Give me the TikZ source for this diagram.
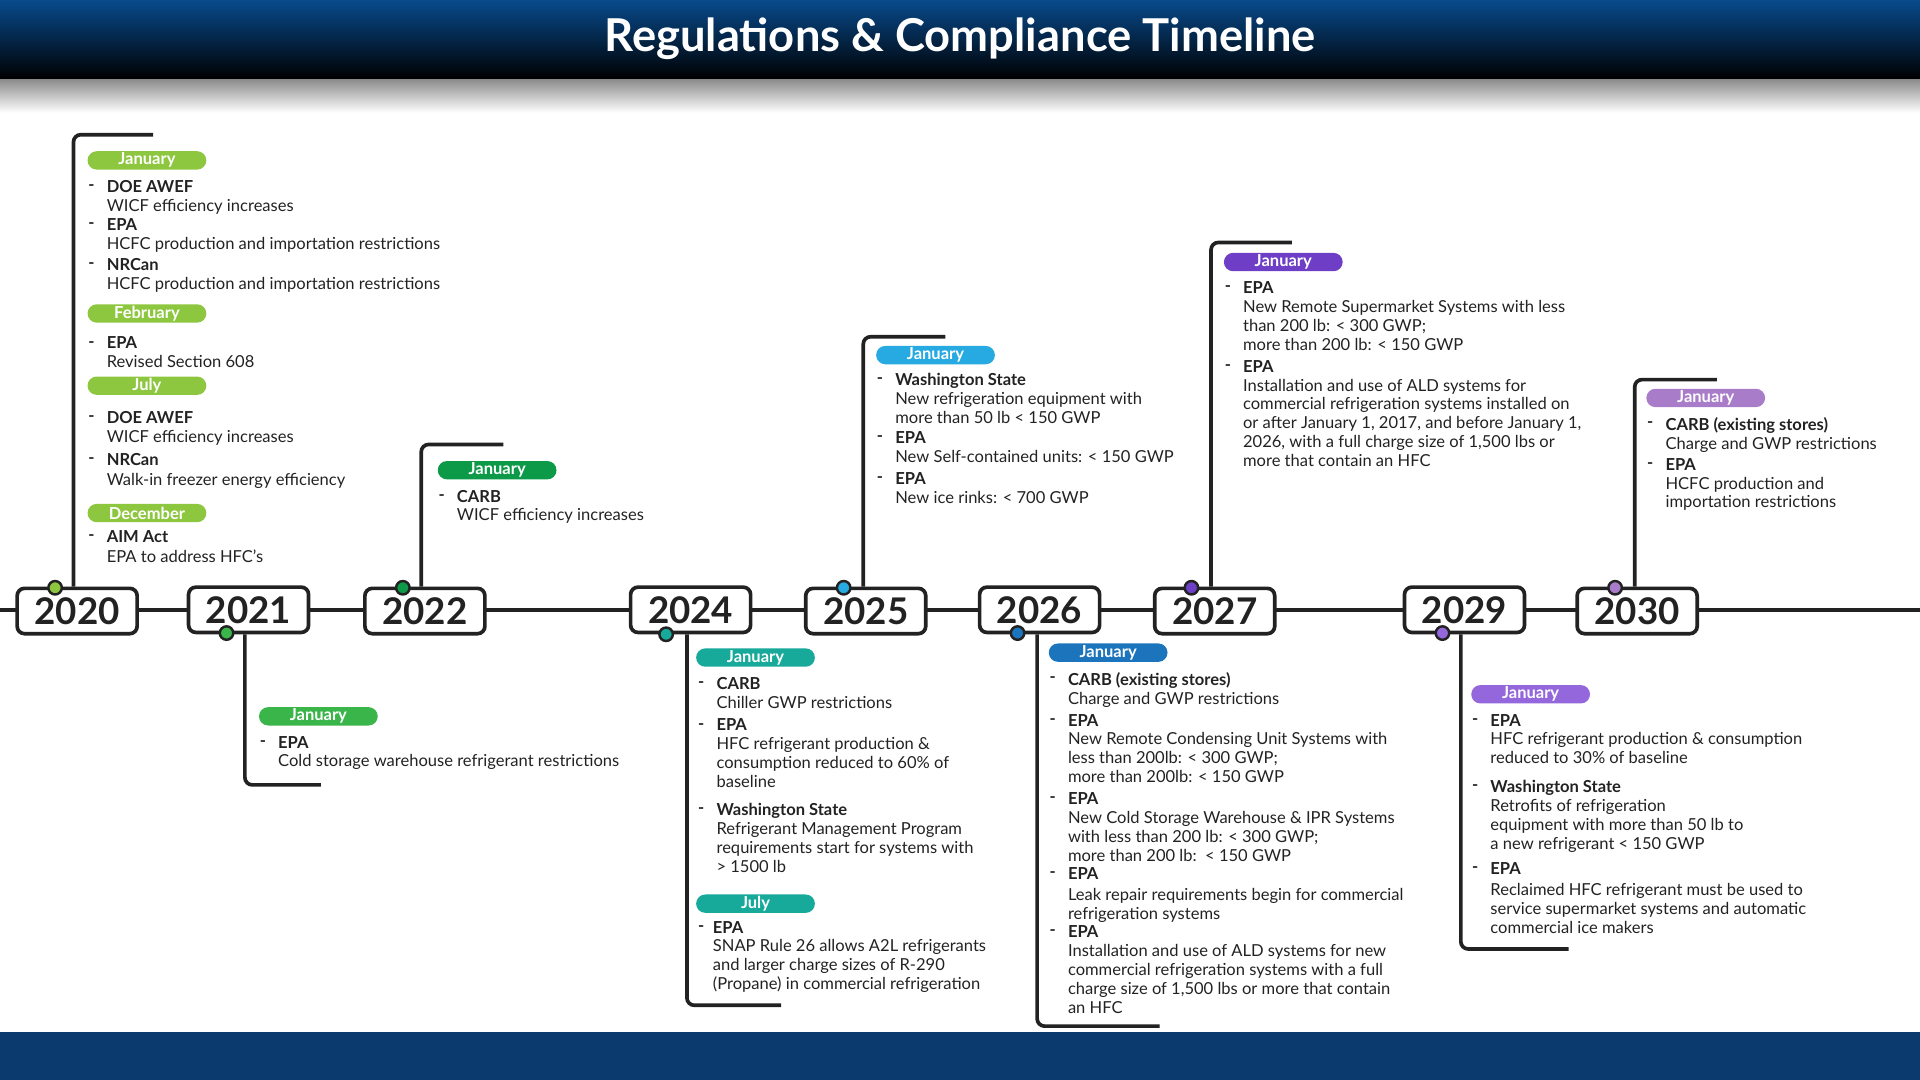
\documentclass[tikz,border=0pt]{standalone}
\usepackage{fontspec}
\setmainfont{Lato}
\usetikzlibrary{calc}

\definecolor{hdrblue}{RGB}{8,74,140}
\definecolor{footblue}{RGB}{10,58,110}
\definecolor{c20}{HTML}{8DC63F}
\definecolor{c21}{HTML}{3AB54A}
\definecolor{c22}{HTML}{0C9A48}
\definecolor{c24}{HTML}{17A999}
\definecolor{c25}{HTML}{27AAE1}
\definecolor{c26}{HTML}{1C75BC}
\definecolor{c27}{HTML}{6E3FC6}
\definecolor{c29}{HTML}{9468DC}
\definecolor{c30}{HTML}{A97CC9}
\definecolor{txt}{HTML}{222222}

\newcommand{\bodyfont}{\fontsize{13.5}{15.4}\selectfont}

\tikzset{
  yearbox/.style={draw=txt, line width=3pt, rounded corners=6pt, fill=white,
    minimum width=98pt, minimum height=37pt, inner sep=0pt,
    font=\fontsize{30}{30}\selectfont\bfseries, text=txt},
  yeardot/.style={circle, draw=txt, line width=2pt, fill=#1, minimum size=11pt, inner sep=0pt},
  bracket/.style={draw=txt, line width=3pt, rounded corners=6pt},
  month/.style={fill=#1, rounded corners=7.5pt, minimum width=97pt, minimum height=15pt,
    inner sep=0pt, text=white, font=\fontsize{13.5}{14}\selectfont\bfseries},
  item/.style={anchor=north west, inner sep=0pt, align=left, font=\bodyfont, text=txt},
  bullet/.style={anchor=west, inner sep=0pt, font=\bodyfont\bfseries, text=txt}
}

\begin{document}
\begin{tikzpicture}[x=1pt, y=-1pt]
\useasboundingbox (0,0) rectangle (1568,882);

% header and footer
\shade[top color=hdrblue, bottom color=black] (0,0) rectangle (1568,65);
\shade[top color=black!45, bottom color=white] (0,65) rectangle (1568,92);
\node[text=white, font=\fontsize{37}{37}\selectfont\bfseries] (title) at (784,32) {Regulations \& Compliance Timeline};
\fill[footblue] (0,843) rectangle (1568,882);

% time axis
\coordinate (ax0) at (0,498);
\coordinate (ax1) at (1568,498);
\draw[draw=txt, line width=3pt] (ax0) -- (ax1);

% year boxes
\node[yearbox] (y20) at (63,499) {2020};
\node[yearbox] (y21) at (203,498) {2021};
\node[yearbox] (y22) at (347,499) {2022};
\node[yearbox] (y24) at (564,498) {2024};
\node[yearbox] (y25) at (707,499) {2025};
\node[yearbox] (y26) at (849,498) {2026};
\node[yearbox] (y27) at (992,499) {2027};
\node[yearbox] (y29) at (1196,498) {2029};
\node[yearbox] (y30) at (1337,499) {2030};

% brackets
\coordinate (b20) at (60,110);   \coordinate (e20) at (125,110);
\coordinate (b21) at (200,641);  \coordinate (e21) at (262,641);
\coordinate (b22) at (344,363);  \coordinate (e22) at (411,363);
\coordinate (b24) at (561,821);  \coordinate (e24) at (638,821);
\coordinate (b25) at (705,275);  \coordinate (e25) at (772,275);
\coordinate (b26) at (847,838);  \coordinate (e26) at (947,838);
\coordinate (b27) at (989,198);  \coordinate (e27) at (1055,198);
\coordinate (b29) at (1193,775); \coordinate (e29) at (1281,775);
\coordinate (b30) at (1335,310); \coordinate (e30) at (1402,310);
\draw[bracket] (y20.north -| b20) |- (e20);
\draw[bracket] (y21.south -| b21) |- (e21);
\draw[bracket] (y22.north -| b22) |- (e22);
\draw[bracket] (y24.south -| b24) |- (e24);
\draw[bracket] (y25.north -| b25) |- (e25);
\draw[bracket] (y26.south -| b26) |- (e26);
\draw[bracket] (y27.north -| b27) |- (e27);
\draw[bracket] (y29.south -| b29) |- (e29);
\draw[bracket] (y30.north -| b30) |- (e30);

% dots
\node[yeardot=c20] (d20) at (45,480) {};
\node[yeardot=c21] (d21) at (185,517) {};
\node[yeardot=c22] (d22) at (329,480) {};
\node[yeardot=c24] (d24) at (544,518) {};
\node[yeardot=c25] (d25) at (689,480) {};
\node[yeardot=c26] (d26) at (831,517) {};
\node[yeardot=c27] (d27) at (973,480) {};
\node[yeardot=c29] (d29) at (1178,517) {};
\node[yeardot=c30] (d30) at (1319,480) {};

% 2020
\node[month=c20] (m20a) at (120,131) {January};
\node[bullet] (k20a) at (72,153) {-}; \node[item] (i20a) at (87,147) {\textbf{DOE AWEF}\\WICF efficiency increases};
\node[bullet] (k20b) at (72,184) {-}; \node[item] (i20b) at (87,178) {\textbf{EPA}\\HCFC production and importation restrictions};
\node[bullet] (k20c) at (72,217) {-}; \node[item] (i20c) at (87,211) {\textbf{NRCan}\\HCFC production and importation restrictions};
\node[month=c20] (m20b) at (120,256) {February};
\node[bullet] (k20d) at (72,281) {-}; \node[item] (i20d) at (87,275) {\textbf{EPA}\\Revised Section 608};
\node[month=c20] (m20c) at (120,315) {July};
\node[bullet] (k20e) at (72,342) {-}; \node[item] (i20e) at (87,336) {\textbf{DOE AWEF}\\WICF efficiency increases};
\node[bullet] (k20f) at (72,376) {-}; \node[item] (i20f) at (87,370) {\textbf{NRCan}\\[1pt]Walk-in freezer energy efficiency};
\node[month=c20] (m20d) at (120,419) {December};
\node[bullet] (k20g) at (72,439) {-}; \node[item] (i20g) at (87,433) {\textbf{AIM Act}\\[1pt]EPA to address HFC’s};

% 2021
\node[month=c21] (m21a) at (260,585) {January};
\node[bullet] (k21a) at (212,607) {-}; \node[item] (i21a) at (227,601) {\textbf{EPA}\\Cold storage warehouse refrigerant restrictions};

% 2022
\node[month=c22] (m22a) at (406,384) {January};
\node[bullet] (k22a) at (358,406) {-}; \node[item] (i22a) at (373,400) {\textbf{CARB}\\WICF efficiency increases};

% 2024
\node[month=c24] (m24a) at (617,537) {January};
\node[bullet] (k24a) at (570,559) {-}; \node[item] (i24a) at (585,553) {\textbf{CARB}\\Chiller GWP restrictions};
\node[bullet] (k24b) at (570,593) {-}; \node[item] (i24b) at (585,587) {\textbf{EPA}\\HFC refrigerant production \&\\consumption reduced to 60\% of\\baseline};
\node[bullet] (k24c) at (570,662) {-}; \node[item] (i24c) at (585,656) {\textbf{Washington State}\\Refrigerant Management Program\\requirements start for systems with\\> 1500 lb};
\node[month=c24] (m24b) at (617,738) {July};
\node[bullet] (k24d) at (570,758) {-}; \node[item] (i24d) at (582,752) {\textbf{EPA}\\SNAP Rule 26 allows A2L refrigerants\\and larger charge sizes of R-290\\(Propane) in commercial refrigeration};

% 2025
\node[month=c25] (m25a) at (764,290) {January};
\node[bullet] (k25a) at (716,311) {-}; \node[item] (i25a) at (731,305) {\textbf{Washington State}\\New refrigeration equipment with\\more than 50 lb < 150 GWP};
\node[bullet] (k25b) at (716,358) {-}; \node[item] (i25b) at (731,352) {\textbf{EPA}\\New Self-contained units: < 150 GWP};
\node[bullet] (k25c) at (716,392) {-}; \node[item] (i25c) at (731,386) {\textbf{EPA}\\New ice rinks: < 700 GWP};

% 2026
\node[month=c26] (m26a) at (905,533) {January};
\node[bullet] (k26a) at (857,555) {-}; \node[item] (i26a) at (872,549) {\textbf{CARB (existing stores)}\\Charge and GWP restrictions};
\node[bullet] (k26b) at (857,589) {-}; \node[item] (i26b) at (872,583) {\textbf{EPA}\\New Remote Condensing Unit Systems with\\less than 200lb: < 300 GWP;\\more than 200lb: < 150 GWP};
\node[bullet] (k26c) at (857,653) {-}; \node[item] (i26c) at (872,647) {\textbf{EPA}\\New Cold Storage Warehouse \& IPR Systems\\with less than 200 lb: < 300 GWP;\\more than 200 lb:\ \ < 150 GWP};
\node[bullet] (k26d) at (857,714) {-}; \node[item] (i26d) at (872,708) {\textbf{EPA}\\[2pt]Leak repair requirements begin for commercial\\refrigeration systems};
\node[bullet] (k26e) at (857,762) {-}; \node[item] (i26e) at (872,756) {\textbf{EPA}\\Installation and use of ALD systems for new\\commercial refrigeration systems with a full\\charge size of 1,500 lbs or more that contain\\an HFC};

% 2027
\node[month=c27] (m27a) at (1048,214) {January};
\node[bullet] (k27a) at (1000,236) {-}; \node[item] (i27a) at (1015,230) {\textbf{EPA}\\New Remote Supermarket Systems with less\\than 200 lb: < 300 GWP;\\more than 200 lb: < 150 GWP};
\node[bullet] (k27b) at (1000,300) {-}; \node[item] (i27b) at (1015,294) {\textbf{EPA}\\Installation and use of ALD systems for\\commercial refrigeration systems installed on\\or after January 1, 2017, and before January 1,\\2026, with a full charge size of 1,500 lbs or\\more that contain an HFC};

% 2029
\node[month=c29] (m29a) at (1250,567) {January};
\node[bullet] (k29a) at (1202,589) {-}; \node[item] (i29a) at (1217,583) {\textbf{EPA}\\HFC refrigerant production \& consumption\\reduced to 30\% of baseline};
\node[bullet] (k29b) at (1202,643) {-}; \node[item] (i29b) at (1217,637) {\textbf{Washington State}\\Retrofits of refrigeration\\equipment with more than 50 lb to\\a new refrigerant < 150 GWP};
\node[bullet] (k29c) at (1202,710) {-}; \node[item] (i29c) at (1217,704) {\textbf{EPA}\\[2pt]Reclaimed HFC refrigerant must be used to\\service supermarket systems and automatic\\commercial ice makers};

% 2030
\node[month=c30] (m30a) at (1393,325) {January};
\node[bullet] (k30a) at (1345,347) {-}; \node[item] (i30a) at (1360,341) {\textbf{CARB (existing stores)}\\Charge and GWP restrictions};
\node[bullet] (k30b) at (1345,380) {-}; \node[item] (i30b) at (1360,374) {\textbf{EPA}\\HCFC production and\\importation restrictions};
\end{tikzpicture}
\end{document}
